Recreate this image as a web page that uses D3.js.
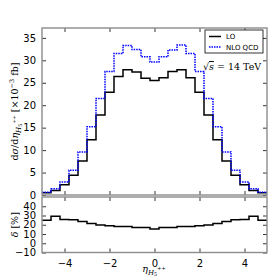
<!DOCTYPE html>
<html>
<head>
<meta charset="utf-8">
<script src="https://cdn.jsdelivr.net/npm/d3@7"></script>
<style>
  body { margin: 0; background: #fff; }
  svg { display: block; }
  .tick text { font-family: "DejaVu Sans", sans-serif; font-size: 10px; fill: #000; }
</style>
</head>
<body>
<div id="chart"></div>
<script>
// bin edges in eta (25 bins of width 0.4)
const binEdges = [-5, -4.6, -4.2, -3.8, -3.4, -3.0, -2.6, -2.2, -1.8, -1.4, -1.0, -0.6, -0.2,
                  0.2, 0.6, 1.0, 1.4, 1.8, 2.2, 2.6, 3.0, 3.4, 3.8, 4.2, 4.6, 5];
// dsigma/deta [x10^-3 fb]
const loValues = [0.5, 1.0, 2.3, 4.4, 7.6, 12.3, 17.8, 22.9, 26.4, 27.9, 27.4, 26.0, 25.5,
                  26.1, 27.5, 27.9, 26.1, 22.9, 17.8, 12.3, 7.6, 4.4, 2.3, 1.0, 0.5];
const nloValues = [0.6, 1.4, 2.9, 5.5, 9.6, 15.2, 21.5, 27.5, 31.5, 33.3, 32.4, 30.8, 29.6,
                   30.8, 32.3, 33.4, 31.5, 27.5, 21.5, 15.2, 9.6, 5.5, 2.9, 1.4, 0.6];
// delta [%]
const deltaValues = [25, 29.3, 25.8, 25.4, 23.6, 21.4, 19.6, 18.9, 18.2, 18.2, 17.1, 17.1, 15.3,
                     17.1, 17.1, 18.2, 18.2, 18.9, 19.6, 21.4, 23.6, 25.4, 25.8, 29.3, 25];
const xTicks = [-4, -2, 0, 2, 4];
const yTicksMain = [0, 5, 10, 15, 20, 25, 30, 35];
const yTicksDelta = [-10, 0, 10, 20, 30, 40];

const W = 280, H = 280;
const left = 42, right = 267;
const mainTop = 28, mainBottom = 195;
const lowTop = 197, lowBottom = 252.5;

const svg = d3.select("#chart").append("svg")
    .attr("width", W).attr("height", H);

const x = d3.scaleLinear().domain([-5, 5]).range([left, right]);
const yMain = d3.scaleLinear().domain([0, 37.2]).range([mainBottom, mainTop]);
const yLow = d3.scaleLinear().domain([-10, 50]).range([lowBottom, lowTop]);

// step path from bin values
function stepData(values) {
    const pts = [];
    values.forEach((v, i) => {
        pts.push([binEdges[i], v]);
        pts.push([binEdges[i + 1], v]);
    });
    return pts;
}

function drawAxes(y, top, bottom, yTicks, showX) {
    const tl = 4;
    svg.append("g")
        .attr("transform", `translate(0,${bottom})`)
        .call(d3.axisBottom(x).tickValues(xTicks).tickSizeInner(-tl).tickSizeOuter(0)
            .tickPadding(7).tickFormat(showX ? d => d3.format("")(d).replace("-", "\u2212") : ""))
        .call(g => g.select(".domain").remove());
    svg.append("g")
        .attr("transform", `translate(0,${top})`)
        .call(d3.axisTop(x).tickValues(xTicks).tickSizeInner(-tl).tickSizeOuter(0).tickFormat(""))
        .call(g => g.select(".domain").remove());
    svg.append("g")
        .attr("transform", `translate(${left},0)`)
        .call(d3.axisLeft(y).tickValues(yTicks).tickSizeInner(-tl).tickSizeOuter(0)
            .tickPadding(6).tickFormat(d => String(d).replace("-", "\u2212")))
        .call(g => g.select(".domain").remove());
    svg.append("g")
        .attr("transform", `translate(${right},0)`)
        .call(d3.axisRight(y).tickValues(yTicks).tickSizeInner(-tl).tickSizeOuter(0).tickFormat(""))
        .call(g => g.select(".domain").remove());
    svg.selectAll(".tick line").attr("stroke", "#000").attr("stroke-width", 0.8);
    svg.append("rect")
        .attr("x", left).attr("y", top)
        .attr("width", right - left).attr("height", bottom - top)
        .attr("fill", "none").attr("stroke", "#8c8c8c").attr("stroke-width", 1.4);
}

const lineMain = d3.line().x(d => x(d[0])).y(d => yMain(d[1]));
const lineLow = d3.line().x(d => x(d[0])).y(d => yLow(d[1]));

// main panel
svg.append("path").datum(stepData(loValues))
    .attr("d", lineMain).attr("fill", "none")
    .attr("stroke", "#000").attr("stroke-width", 1.5);
svg.append("path").datum(stepData(nloValues))
    .attr("d", lineMain).attr("fill", "none")
    .attr("stroke", "#0000ff").attr("stroke-width", 1.5)
    .attr("stroke-dasharray", "1.5,1");
drawAxes(yMain, mainTop, mainBottom, yTicksMain, false);

// ratio panel
svg.append("path").datum(stepData(deltaValues))
    .attr("d", lineLow).attr("fill", "none")
    .attr("stroke", "#000").attr("stroke-width", 1.5);
drawAxes(yLow, lowTop, lowBottom, yTicksDelta, true);

// legend
const lg = svg.append("g");
lg.append("rect").attr("x", 205).attr("y", 30).attr("width", 58).attr("height", 23)
    .attr("fill", "#fff").attr("stroke", "#000").attr("stroke-width", 0.8);
lg.append("line").attr("x1", 209).attr("x2", 221).attr("y1", 36.5).attr("y2", 36.5)
    .attr("stroke", "#000").attr("stroke-width", 1.5);
lg.append("line").attr("x1", 209).attr("x2", 221).attr("y1", 47).attr("y2", 47)
    .attr("stroke", "#0000ff").attr("stroke-width", 1.5).attr("stroke-dasharray", "1.5,1");
lg.append("text").attr("x", 226).attr("y", 39.3).text("LO")
    .attr("font-family", "DejaVu Sans").attr("font-size", 7);
lg.append("text").attr("x", 226).attr("y", 49.8).text("NLO QCD")
    .attr("font-family", "DejaVu Sans").attr("font-size", 7);

// energy label
const en = svg.append("text").attr("x", 203).attr("y", 70)
    .attr("font-family", "DejaVu Serif").attr("font-size", 9.5);
en.append("tspan").text("\u221A");
en.append("tspan").attr("text-decoration", "overline").attr("font-style", "italic").text("s");
en.append("tspan").text(" = 14 TeV");

// y label main
const yl = svg.append("text")
    .attr("transform", `translate(18,${(mainTop + mainBottom) / 2}) rotate(-90)`)
    .attr("text-anchor", "middle")
    .attr("font-family", "DejaVu Serif").attr("font-size", 9.5);
yl.append("tspan").text("d");
yl.append("tspan").attr("font-style", "italic").text("\u03C3");
yl.append("tspan").text("/d");
yl.append("tspan").attr("font-style", "italic").text("\u03B7");
yl.append("tspan").attr("font-style", "italic").attr("font-size", 7).attr("dy", 2.5).text("H");
yl.append("tspan").attr("font-size", 5).attr("dy", 1.5).text("5");
yl.append("tspan").attr("font-size", 5).attr("dy", -6).text("++");
yl.append("tspan").attr("dy", 2).text(" [\u00D710");
yl.append("tspan").attr("font-size", 6.5).attr("dy", -4).text("\u22123");
yl.append("tspan").attr("dy", 4).text(" fb]");

// y label ratio
const dl = svg.append("text")
    .attr("transform", `translate(18,${(lowTop + lowBottom) / 2}) rotate(-90)`)
    .attr("text-anchor", "middle")
    .attr("font-family", "DejaVu Serif").attr("font-size", 9.5);
dl.append("tspan").attr("font-style", "italic").text("\u03B4");
dl.append("tspan").text(" [%]");

// x label
const xl = svg.append("text").attr("x", 154).attr("y", 272)
    .attr("text-anchor", "middle")
    .attr("font-family", "DejaVu Serif").attr("font-size", 9.5);
xl.append("tspan").attr("font-style", "italic").text("\u03B7");
xl.append("tspan").attr("font-style", "italic").attr("font-size", 7).attr("dy", 2.5).text("H");
xl.append("tspan").attr("font-size", 5).attr("dy", 1.5).text("5");
xl.append("tspan").attr("font-size", 5).attr("dy", -6).text("++");
</script>
</body>
</html>
